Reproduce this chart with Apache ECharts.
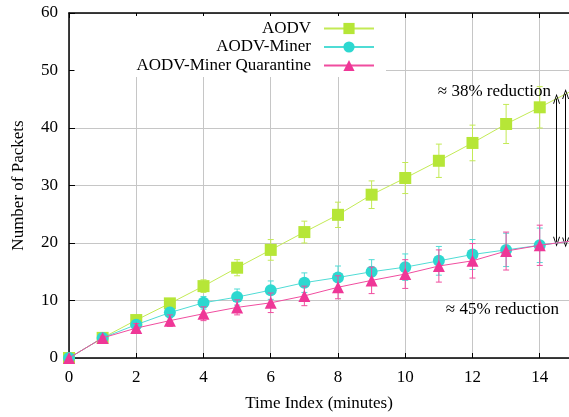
<!DOCTYPE html>
<html>
<head>
<meta charset="utf-8">
<script src="https://cdn.jsdelivr.net/npm/echarts@6/dist/echarts.min.js"></script>
<style>html,body{margin:0;padding:0;background:#fff;}#c{width:569px;height:417px;}</style>
</head>
<body>
<div id="c"></div>
<script>
// ---- data ----
const timeIdx = [0,1,2,3,4,5,6,7,8,9,10,11,12,13,14,15];
const aodv      = [0,3.5,6.6,9.5,12.5,15.7,18.8,21.9,24.9,28.4,31.3,34.3,37.4,40.7,43.6,46.6];
const aodvErr   = [0,0.3,0.5,0.7,1.1,1.4,1.8,1.9,2.2,2.4,2.7,2.9,3.1,3.4,3.6,3.8];
const miner     = [0,3.5,5.8,7.9,9.6,10.6,11.8,13.1,14.0,15.0,15.8,16.9,18.0,18.8,19.6,20.4];
const minerErr  = [0,0.3,0.6,0.9,1.1,1.4,1.6,1.7,2.0,2.1,2.3,2.5,2.6,2.9,3.0,3.1];
const quar      = [0,3.5,5.2,6.5,7.7,8.8,9.6,10.8,12.3,13.5,14.6,16.0,16.9,18.6,19.6,20.4];
const quarErr   = [0,0.3,0.8,1.0,1.2,1.3,1.7,1.7,2.0,2.3,2.5,2.8,3.0,3.3,3.5,3.7];
const seriesNames = ['AODV','AODV-Miner','AODV-Miner Quarantine'];
const xTicks = [0,2,4,6,8,10,12,14];
const yTicks = [0,10,20,30,40,50,60];
// annotation arrows (data coords)
const arrowX      = [14.5, 14.77];
const arrowTop    = [45.1, 45.9];
const arrowBottom = [20.2, 20.1];
const annoTexts = ['≈ 38% reduction', '≈ 45% reduction'];

const FONT = 'Liberation Serif';
const colors = ['#b6e637','#2dd8d0','#ef3797'];
const lineColors = ['#c3ea55','#4fdcd5','#f04d9f'];
const symbols = ['rect','circle','triangle'];
const symSizes = [12,12,12];
const X_MAX = 14.87;

function zip(xs, ys){ return xs.map((x,i)=>[x, ys[i]]); }
function zip3(xs, ys, es){ return xs.map((x,i)=>[x, ys[i], es[i]]); }

function errSeries(name, data, color, z){
  return {
    type:'custom', name: name+'_err', z: z, silent:true, clip:true,
    data: data,
    renderItem: function(params, api){
      const x = api.value(0), y = api.value(1), e = api.value(2);
      if (!e || x > X_MAX) return null;
      const t = api.coord([x, y+e]), b = api.coord([x, y-e]);
      const c = 3;
      const st = {stroke: color, lineWidth: 1};
      return {type:'group', children:[
        {type:'line', shape:{x1:t[0],y1:t[1],x2:b[0],y2:b[1]}, style:st},
        {type:'line', shape:{x1:t[0]-c,y1:t[1],x2:t[0]+c,y2:t[1]}, style:st},
        {type:'line', shape:{x1:b[0]-c,y1:b[1],x2:b[0]+c,y2:b[1]}, style:st}
      ]};
    }
  };
}

const chevron = 'path://M5,0 L10,12 L8.6,12 L5,3 L1.4,12 L0,12 Z';

const allY = [aodv, miner, quar];
const allE = [aodvErr, minerErr, quarErr];
const series = [];
for (let i=0;i<3;i++){
  series.push(errSeries(seriesNames[i], zip3(timeIdx, allY[i], allE[i]), lineColors[i], 2+i*2));
  const s = {
    type:'line', name: seriesNames[i], z: 3+i*2,
    data: zip(timeIdx, allY[i]),
    symbol: symbols[i], symbolSize: symSizes[i], showAllSymbol:true,
    itemStyle:{color: colors[i]},
    lineStyle:{color: lineColors[i], width:1},
    emphasis:{disabled:true},
    animation:false
  };
  if (i===0){
    s.markLine = {
      silent:true, animation:false,
      symbol:[chevron, chevron], symbolSize:[7,10],
      lineStyle:{color:'#000', width:1, type:'solid'},
      label:{show:false},
      data: arrowX.map((x,k)=>[{coord:[x, arrowTop[k]]},{coord:[x, arrowBottom[k]]}])
    };
  }
  series.push(s);
}

const chart = echarts.init(document.getElementById('c'), null, {renderer:'canvas'});
chart.setOption({
  animation:false,
  backgroundColor:'#fff',
  grid:{left:69, top:13, right:0, bottom:57, containLabel:false},
  xAxis:[{
    type:'value', min:0, max:X_MAX, interval:2,
    name:'Time Index (minutes)', nameLocation:'middle', nameGap:37,
    nameTextStyle:{fontFamily:FONT, fontSize:17, color:'#000'},
    axisLine:{show:true, lineStyle:{color:'#000', width:1.5}},
    axisTick:{show:true, inside:true, length:5, lineStyle:{color:'#000'}},
    axisLabel:{fontFamily:FONT, fontSize:17, color:'#000', margin:11, showMaxLabel:false,
      formatter: v => xTicks.indexOf(v) >= 0 ? String(v) : ''},
    splitLine:{show:true, lineStyle:{color:'#c6c6c6', width:1}}
  },{
    type:'value', position:'top', min:0, max:X_MAX, interval:2,
    axisLine:{show:true, onZero:false, lineStyle:{color:'#000', width:1.5}},
    axisTick:{show:true, inside:true, length:5, lineStyle:{color:'#000'}},
    axisLabel:{show:false}, splitLine:{show:false}
  }],
  yAxis:{
    type:'value', min:0, max:60, interval:10,
    name:'Number of Packets', nameLocation:'middle', nameGap:42, nameRotate:90,
    nameTextStyle:{fontFamily:FONT, fontSize:17, color:'#000'},
    axisLine:{show:true, lineStyle:{color:'#000', width:1.5}},
    axisTick:{show:true, inside:true, length:6, lineStyle:{color:'#000'}},
    axisLabel:{fontFamily:FONT, fontSize:17, color:'#000', margin:11,
      formatter: v => yTicks.indexOf(v) >= 0 ? String(v) : ''},
    splitLine:{show:true, lineStyle:{color:'#c6c6c6', width:1}}
  },
  legend:{
    data: seriesNames, orient:'vertical', align:'right',
    right:183, top:16, padding:[4,11,3,62], backgroundColor:'#fff',
    itemWidth:50, itemHeight:14, itemGap:1.5,
    textStyle:{fontFamily:FONT, fontSize:17, color:'#000', padding:[0,8,0,0]},
    selectedMode:false, z:10
  },
  graphic:[
    {type:'text', right:18, top:83, z:100, style:{text:annoTexts[0], font:'17px "Liberation Serif"', fill:'#000'}},
    {type:'text', right:10, top:301, z:100, style:{text:annoTexts[1], font:'17px "Liberation Serif"', fill:'#000'}}
  ],
  series: series
});
</script>
</body>
</html>
